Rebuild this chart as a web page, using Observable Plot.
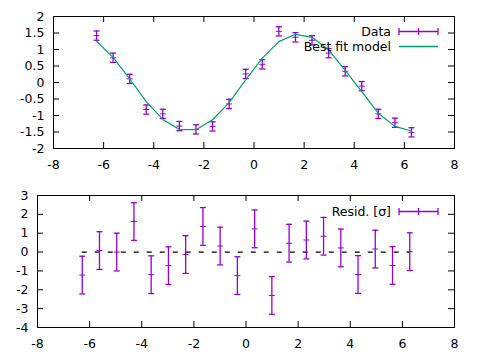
<!DOCTYPE html>
<html>
<head>
<meta charset="utf-8">
<script src="https://cdn.jsdelivr.net/npm/d3@7"></script>
<script src="https://cdn.jsdelivr.net/npm/@observablehq/plot@0.6"></script>
<style>
  html, body { margin: 0; padding: 0; background: #fff; }
  #chart svg { display: block; }
</style>
</head>
<body>
<div id="chart"></div>
<script>
// ---- data ----
const xs = [-6.283, -5.622, -4.960, -4.299, -3.638, -2.976, -2.315, -1.653, -0.992, -0.331,
             0.331, 0.992, 1.653, 2.315, 2.976, 3.638, 4.299, 4.960, 5.622, 6.283];
const dataY = [1.42, 0.75, 0.11, -0.82, -0.95, -1.32, -1.42, -1.33, -0.65, 0.26,
               0.55, 1.55, 1.37, 1.28, 0.89, 0.34, -0.11, -0.95, -1.22, -1.51];
const dataErr = [0.14, 0.14, 0.14, 0.14, 0.14, 0.14, 0.14, 0.14, 0.14, 0.14,
                 0.14, 0.14, 0.14, 0.14, 0.14, 0.14, 0.14, 0.14, 0.14, 0.14];
const modelY = [1.25, 0.76, 0.11, -0.58, -1.12, -1.42, -1.43, -1.13, -0.61, 0.08,
                0.74, 1.24, 1.46, 1.37, 0.99, 0.37, -0.28, -0.93, -1.33, -1.47];
const resid = [-1.22, 0.08, 0.0, 1.62, -1.2, -0.72, -0.13, 1.36, 0.32, -1.25,
               1.23, -2.3, 0.47, 0.64, 0.84, 0.22, -1.19, 0.16, -0.71, 0.02];
const residErr = [1, 1, 1, 1, 1, 1, 1, 1, 1, 1, 1, 1, 1, 1, 1, 1, 1, 1, 1, 1];
const xTicks = [-8, -6, -4, -2, 0, 2, 4, 6, 8];
const topYTicks = [-2, -1.5, -1, -0.5, 0, 0.5, 1, 1.5, 2];
const botYTicks = [-4, -3, -2, -1, 0, 1, 2, 3];
const legendTop = ["Data", "Best fit model"];
const legendBot = ["Resid. [σ]"];

const PURPLE = "#9400d3";
const TEAL = "#009e73";
const FONT = "'DejaVu Sans', sans-serif";
const FS = 12.5;
const idx = d3.range(xs.length);

// horizontal line symbol for error-bar caps / centre marks
const capSym = { draw(ctx) { ctx.moveTo(-3, 0); ctx.lineTo(3, 0); } };

function frameMarks(yTicks, frameW, frameH) {
  const fmt = d => String(d);
  return [
    Plot.frame({ stroke: "black", strokeWidth: 1 }),
    Plot.tickX(xTicks, { x: d => d, insetTop: frameH - 6, stroke: "black" }),
    Plot.tickX(xTicks, { x: d => d, insetBottom: frameH - 6, stroke: "black" }),
    Plot.tickY(yTicks, { y: d => d, insetRight: frameW - 6, stroke: "black" }),
    Plot.tickY(yTicks, { y: d => d, insetLeft: frameW - 6, stroke: "black" }),
    Plot.axisX(xTicks, { tickSize: 0, tickPadding: 12, tickFormat: fmt, label: null }),
    Plot.axisY(yTicks, { tickSize: 0, tickPadding: 9, tickFormat: fmt, label: null })
  ];
}

function errorMarks(yArr, eArr) {
  return [
    Plot.ruleX(idx, { x: i => xs[i], y1: i => yArr[i] - eArr[i], y2: i => yArr[i] + eArr[i], stroke: PURPLE, strokeWidth: 1.3 }),
    Plot.dot(idx, { x: i => xs[i], y: i => yArr[i] - eArr[i], symbol: capSym, fill: "none", stroke: PURPLE, strokeWidth: 1.3, r: 3 }),
    Plot.dot(idx, { x: i => xs[i], y: i => yArr[i] + eArr[i], symbol: capSym, fill: "none", stroke: PURPLE, strokeWidth: 1.3, r: 3 }),
    Plot.dot(idx, { x: i => xs[i], y: i => yArr[i], symbol: capSym, fill: "none", stroke: PURPLE, strokeWidth: 1, r: 3 })
  ];
}

const style = { fontFamily: FONT, fontSize: FS + "px", color: "black", background: "white", overflow: "visible" };

// ---- top panel ----
const topW = 480 - 53 - 26, topH = 180 - 16 - 32;
const topPlot = Plot.plot({
  width: 480, height: 180,
  marginLeft: 53, marginRight: 26, marginTop: 16, marginBottom: 32,
  x: { domain: [-8, 8] },
  y: { domain: [-2, 2] },
  style,
  marks: [
    ...frameMarks(topYTicks, topW, topH),
    ...errorMarks(dataY, dataErr),
    Plot.line(idx, { x: i => xs[i], y: i => modelY[i], stroke: TEAL, strokeWidth: 1.2 })
  ]
});

// ---- bottom panel ----
const botW = 480 - 37 - 26, botH = 180 - 15 - 33;
const botPlot = Plot.plot({
  width: 480, height: 180,
  marginLeft: 37, marginRight: 26, marginTop: 15, marginBottom: 33,
  x: { domain: [-8, 8] },
  y: { domain: [-4, 3] },
  style,
  marks: [
    ...frameMarks(botYTicks, botW, botH),
    Plot.ruleY([0], { x1: xs[0], x2: xs[xs.length - 1], stroke: "black", strokeWidth: 1.2, strokeDasharray: "5,8" }),
    ...errorMarks(resid, residErr)
  ]
});

// ---- legends (drawn on top, no box) ----
function addLegend(svg, entries) {
  const g = d3.select(svg).append("g").attr("font-family", FONT).attr("font-size", FS);
  entries.forEach((e, k) => {
    const y = 31.5 + k * 15;
    g.append("text").attr("x", 391).attr("y", y).attr("dy", "0.35em")
      .attr("text-anchor", "end").attr("fill", "black").text(e.label);
    g.append("line").attr("x1", 399).attr("x2", 438).attr("y1", y).attr("y2", y)
      .attr("stroke", e.color).attr("stroke-width", 1.3);
    if (e.bars) {
      [399, 418.5, 438].forEach(x => {
        g.append("line").attr("x1", x).attr("x2", x).attr("y1", y - 3.5).attr("y2", y + 3.5)
          .attr("stroke", e.color).attr("stroke-width", 1.3);
      });
    }
  });
}
addLegend(topPlot, [
  { label: legendTop[0], color: PURPLE, bars: true },
  { label: legendTop[1], color: TEAL, bars: false }
]);
addLegend(botPlot, [{ label: legendBot[0], color: PURPLE, bars: true }]);

document.getElementById("chart").append(topPlot, botPlot);
</script>
</body>
</html>
